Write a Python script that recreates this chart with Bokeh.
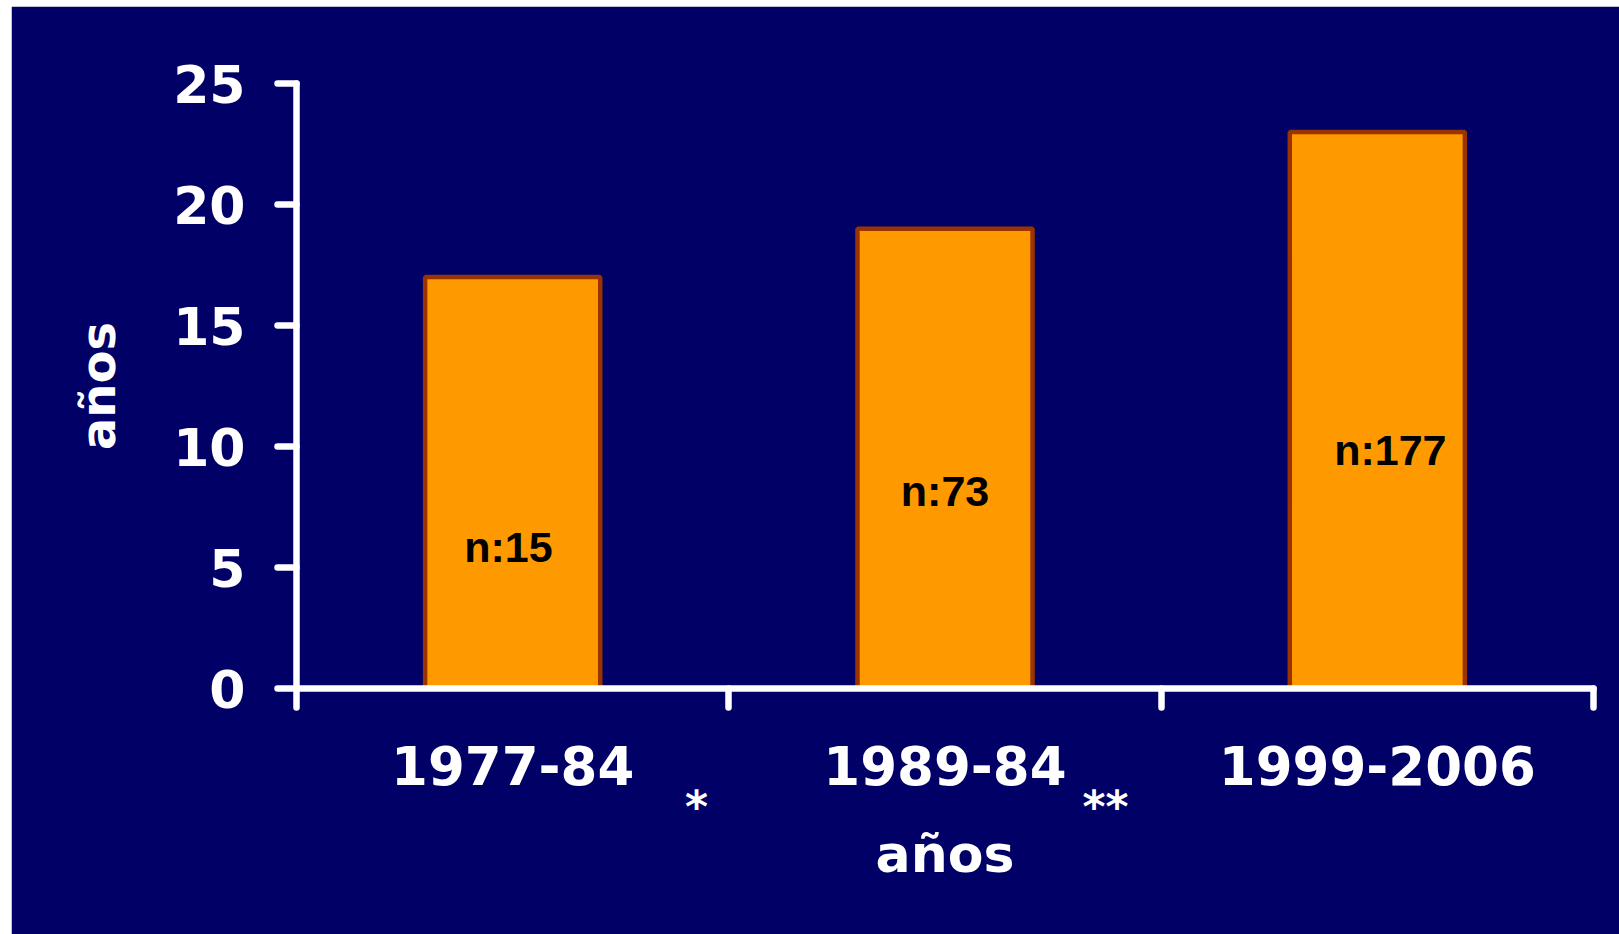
from bokeh.plotting import figure
from bokeh.models import ColumnDataSource, FixedTicker, Range1d, LinearAxis
from bokeh.core.properties import value
from bokeh.embed import file_html
from bokeh.resources import INLINE

# Age (años) by period, with group sizes
periods = ["1977-84", "1989-84", "1999-2006"]
ages = [17, 19, 23]
group_labels = ["n:15", "n:73", "n:177"]
label_x = [0.49, 1.50, 2.53]
label_y = [5.85, 8.15, 9.84]
marks = ["*", "**"]
mark_x = [0.925, 1.871]

NAVY = "#000066"
ORANGE = "#FF9900"
EDGE = "#993300"
FONT = "DejaVu Sans"

centers = [i + 0.5 for i in range(len(periods))]
bars = ColumnDataSource(dict(x=centers, top=ages))
notes = ColumnDataSource(dict(x=label_x, y=label_y, text=group_labels))

p = figure(
    width=1608, height=928,
    x_range=Range1d(0, len(periods)), y_range=Range1d(0, 25),
    output_backend="svg", toolbar_location=None,
    min_border_left=285, min_border_right=26,
    min_border_top=77, min_border_bottom=246,
    background_fill_color=NAVY, border_fill_color=NAVY,
    outline_line_color=NAVY, outline_line_width=2,
)
p.margin = (6, 0, 0, 11)
p.grid.visible = False

p.vbar(x="x", top="top", bottom=0, width=0.405, source=bars,
       fill_color=ORANGE, line_color=EDGE, line_width=4.5)

p.text(x="x", y="y", text="text", source=notes,
       text_font=value("Liberation Sans"), text_font_style="bold",
       text_font_size="43px", text_color="black",
       text_align="center", text_baseline="alphabetic")

# x axis: period names centred, boundary ticks between periods
xa = p.xaxis[0]
xa.ticker = FixedTicker(ticks=centers, minor_ticks=list(range(len(periods) + 1)))
xa.major_label_overrides = {c: name for c, name in zip(centers, periods)}
xa.major_tick_line_color = None
xa.major_tick_out = 0
xa.major_tick_in = 0
xa.minor_tick_line_color = "white"
xa.minor_tick_line_width = 6.5
xa.minor_tick_line_cap = "round"
xa.minor_tick_in = 0
xa.minor_tick_out = 19
xa.axis_line_color = "white"
xa.axis_line_width = 6.5
xa.axis_line_cap = "round"
xa.major_label_text_font = FONT
xa.major_label_text_font_style = "bold"
xa.major_label_text_font_size = "53px"
xa.major_label_text_color = "white"
xa.major_label_standoff = 38

# second row under the period names: significance marks and the axis title
xm = LinearAxis(
    ticker=FixedTicker(ticks=mark_x, minor_ticks=[]),
    major_label_overrides={mx: m for mx, m in zip(mark_x, marks)},
    axis_line_color=None, major_tick_line_color=None, minor_tick_line_color=None,
    major_tick_out=0, major_tick_in=0,
    major_label_text_font=FONT, major_label_text_font_style="bold",
    major_label_text_font_size="44px", major_label_text_color="white",
    major_label_standoff=-7,
    axis_label="años", axis_label_text_font=FONT,
    axis_label_text_font_style="bold", axis_label_text_font_size="52px",
    axis_label_text_color="white", axis_label_standoff=-11,
)
p.add_layout(xm, "below")

ya = p.yaxis[0]
ya.ticker = FixedTicker(ticks=[0, 5, 10, 15, 20, 25], minor_ticks=[])
ya.major_tick_line_color = "white"
ya.major_tick_line_width = 6.5
ya.major_tick_line_cap = "round"
ya.major_tick_in = 0
ya.major_tick_out = 19
ya.minor_tick_line_color = None
ya.axis_line_color = "white"
ya.axis_line_width = 6.5
ya.axis_line_cap = "round"
ya.axis_line_join = "round"
ya.major_label_text_font = FONT
ya.major_label_text_font_style = "bold"
ya.major_label_text_font_size = "52px"
ya.major_label_text_color = "white"
ya.major_label_standoff = 32
ya.axis_label = "años"
ya.axis_label_text_font = FONT
ya.axis_label_text_font_style = "bold"
ya.axis_label_text_font_size = "48px"
ya.axis_label_text_color = "white"
ya.axis_label_standoff = 44

open("out.html", "w").write(file_html(p, INLINE))
